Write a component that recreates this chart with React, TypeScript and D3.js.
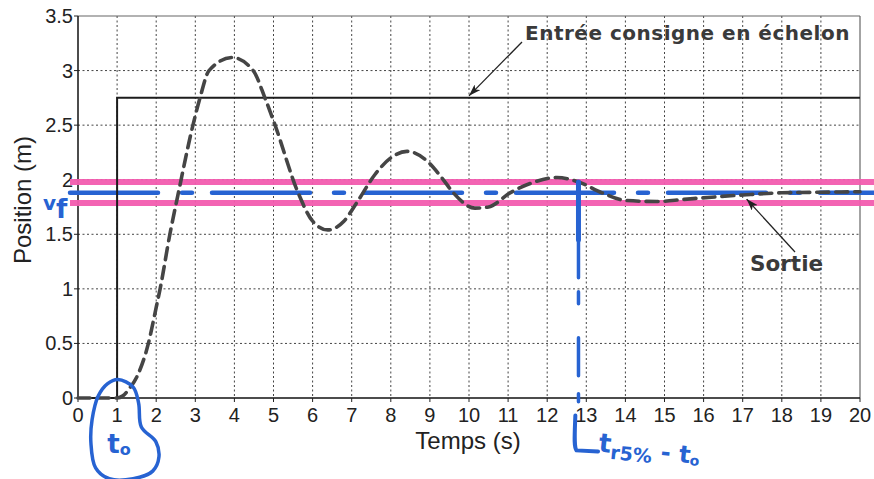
import React from 'react';
import * as d3 from 'd3';

const W = 874;
const H = 479;

const xTicks = [0, 1, 2, 3, 4, 5, 6, 7, 8, 9, 10, 11, 12, 13, 14, 15, 16, 17, 18, 19, 20];
const yTicks = [0, 0.5, 1, 1.5, 2, 2.5, 3, 3.5];
const yTickLabels = ['0', '0.5', '1', '1.5', '2', '2.5', '3', '3.5'];

// Entrée consigne en échelon
const stepT = [0, 1, 1, 20];
const stepV = [0, 0, 2.75, 2.75];

// Sortie
const outT = [0, 1, 1.15, 1.3, 1.5, 1.8, 2.0, 2.1, 2.35, 2.55, 2.94, 3.12, 3.35, 3.94, 4.48, 4.78, 5.04, 5.63, 6.0, 6.39, 6.8, 7.13, 7.6, 8.0, 8.41, 8.9, 9.3, 9.6, 10.15, 10.5, 11.05, 11.6, 12.25, 12.8, 13.4, 14.0, 14.8, 15.5, 16.2, 17.0, 18.0, 19.0, 20];
const outV = [0, 0, 0.02, 0.08, 0.19, 0.5, 0.83, 1.0, 1.5, 1.85, 2.5, 2.75, 3.0, 3.12, 3.0, 2.75, 2.5, 1.88, 1.62, 1.54, 1.62, 1.79, 2.05, 2.2, 2.26, 2.18, 2.02, 1.88, 1.74, 1.75, 1.88, 1.97, 2.02, 1.98, 1.88, 1.81, 1.8, 1.82, 1.84, 1.86, 1.88, 1.885, 1.89];

// hand annotations
const finalValue = 1.88;
const bandValues = [1.98, 1.787];
const settleT = 12.8;
const blobT = [1.02, 1.41, 1.55, 1.62, 1.99, 2.07, 1.91, 1.41, 0.8, 0.45, 0.33, 0.36, 0.52, 0.75];
const blobV = [0.17, 0.1, -0.046, -0.266, -0.4, -0.54, -0.67, -0.74, -0.74, -0.64, -0.41, -0.2, 0.02, 0.13];

const SANS = '"Liberation Sans", Arial, sans-serif';
const BOLD = '"DejaVu Sans", Verdana, sans-serif';
const BLUE = '#2763d2';
const PINK = '#f35caf';

export default function App() {
  const x = d3.scaleLinear().domain([0, 20]).range([78, 860]);
  const y = d3.scaleLinear().domain([0, 3.5]).range([398, 16]);

  const line = d3.line<[number, number]>().x(d => x(d[0])).y(d => y(d[1]));
  const stepPath = line(stepT.map((t, i) => [t, stepV[i]]))!;
  const outPath = d3.line<[number, number]>().x(d => x(d[0])).y(d => y(d[1])).curve(d3.curveMonotoneX)(outT.map((t, i) => [t, outV[i]]))!;
  const blobPath = d3.line<[number, number]>().x(d => x(d[0])).y(d => y(d[1])).curve(d3.curveCatmullRomClosed.alpha(0.5))(blobT.map((t, i) => [t, blobV[i]]))!;

  const x0 = x(0), x1 = x(20), yTop = y(3.5), yBot = y(0);
  const xs = x(settleT);

  return (
    <svg width={W} height={H} style={{ position: 'absolute', left: 0, top: 0, background: '#fff' }}>
      <defs>
        <marker id="arr" viewBox="0 0 12 8" refX="12" refY="4" markerWidth="12" markerHeight="8" orient="auto" markerUnits="userSpaceOnUse">
          <path d="M0,0 L12,4 L0,8 L3,4 Z" fill="#222" />
        </marker>
      </defs>

      {/* grid */}
      {xTicks.slice(1, -1).map(t => (
        <line key={'gx' + t} x1={x(t)} x2={x(t)} y1={yTop} y2={yBot} stroke="#444" strokeWidth={1} strokeDasharray="2 2.5" />
      ))}
      {yTicks.slice(1, -1).map(v => (
        <line key={'gy' + v} x1={x0} x2={x1} y1={y(v)} y2={y(v)} stroke="#444" strokeWidth={1} strokeDasharray="2 2.5" />
      ))}

      {/* frame */}
      <line x1={x0} x2={x1} y1={yTop} y2={yTop} stroke="#666" strokeWidth={1.2} />
      <line x1={x1} x2={x1} y1={yTop} y2={yBot} stroke="#666" strokeWidth={1.2} />
      <line x1={x0} x2={x0} y1={yTop} y2={yBot} stroke="#111" strokeWidth={1.5} />
      <line x1={x0} x2={x1} y1={yBot} y2={yBot} stroke="#111" strokeWidth={1.5} />

      {/* ticks */}
      {xTicks.map(t => (
        <g key={'xt' + t}>
          <line x1={x(t)} x2={x(t)} y1={yBot} y2={yBot + 4} stroke="#222" />
          <text x={x(t)} y={yBot + 24} textAnchor="middle" fontFamily={SANS} fontSize={20} fill="#222">{t}</text>
        </g>
      ))}
      {yTicks.map((v, i) => (
        <g key={'yt' + v}>
          <line x1={x0 - 4} x2={x0} y1={y(v)} y2={y(v)} stroke="#222" />
          <text x={x0 - 5} y={y(v) + 7} textAnchor="end" fontFamily={SANS} fontSize={20} fill="#222">{yTickLabels[i]}</text>
        </g>
      ))}

      <text x={468} y={449} textAnchor="middle" fontFamily={SANS} fontSize={24} fill="#222">Temps (s)</text>
      <text transform="translate(31,200) rotate(-90)" textAnchor="middle" fontFamily={SANS} fontSize={24} fill="#222">Position (m)</text>

      {/* pink tolerance band */}
      {bandValues.map(v => (
        <line key={'pk' + v} x1={x0 - 8} x2={W} y1={y(v)} y2={y(v)} stroke={PINK} strokeWidth={6} opacity={0.95} />
      ))}
      {/* final value blue */}
      <line x1={x0 - 8} x2={W} y1={y(finalValue)} y2={y(finalValue)} stroke={BLUE} strokeWidth={4.5} strokeDasharray="98 24 10 20" strokeDashoffset={10} strokeLinecap="round" />

      {/* step input */}
      <path d={stepPath} fill="none" stroke="#1c1c1c" strokeWidth={2} />

      {/* output */}
      <path d={outPath} fill="none" stroke="#454545" strokeWidth={3.6} strokeDasharray="12 7" strokeLinecap="round" />

      {/* settle time vertical */}
      <line x1={xs} x2={xs} y1={y(bandValues[0])} y2={y(1.45)} stroke={BLUE} strokeWidth={5} strokeLinecap="round" />
      <line x1={xs} x2={xs} y1={y(1.45)} y2={y(-0.13)} stroke={BLUE} strokeWidth={3.5} strokeDasharray="38 14 12 34 38 18 8 12 8" strokeLinecap="round" />
      <path d={`M${x(12.72)},${y(-0.16)} C${x(12.7)},${y(-0.35)} ${x(12.68)},${y(-0.45)} ${x(12.75)},${y(-0.48)} L${x(13.3)},${y(-0.49)}`} fill="none" stroke={BLUE} strokeWidth={4} strokeLinecap="round" />
      <text transform={`translate(${x(13.3)},${y(-0.49)}) rotate(6)`} fontFamily={BOLD} fill={BLUE} fontWeight="bold">
        <tspan fontSize={26}>t</tspan>
        <tspan fontSize={19} dy={6}>r5%</tspan>
        <tspan fontSize={24} dy={-4}> - t</tspan>
        <tspan fontSize={14} dy={2}>o</tspan>
      </text>

      {/* t0 blob */}
      <path d={blobPath} fill="none" stroke={BLUE} strokeWidth={3.5} />
      <text x={x(0.75)} y={y(-0.5)} fontFamily={BOLD} fontWeight="bold" fill={BLUE}>
        <tspan fontSize={26}>t</tspan>
        <tspan fontSize={16} dy={2}>o</tspan>
      </text>

      {/* Vf */}
      <text x={43} y={210} fontFamily={BOLD} fontWeight="bold" fill={BLUE}>
        <tspan fontSize={20}>v</tspan>
        <tspan fontSize={26} dy={8}>f</tspan>
      </text>

      {/* annotations */}
      <text x={525} y={40} fontFamily={BOLD} fontWeight="bold" fontSize={20} letterSpacing={0.5} fill="#3a3a3a">Entrée consigne en échelon</text>
      <line x1={522} y1={42} x2={x(10)} y2={y(2.75) - 2} stroke="#222" strokeWidth={1.3} markerEnd="url(#arr)" />
      <text x={750} y={271} fontFamily={BOLD} fontWeight="bold" fontSize={21.5} fill="#3a3a3a">Sortie</text>
      <line x1={795} y1={252} x2={x(17.1)} y2={y(1.85) + 3} stroke="#222" strokeWidth={1.3} markerEnd="url(#arr)" />
    </svg>
  );
}
